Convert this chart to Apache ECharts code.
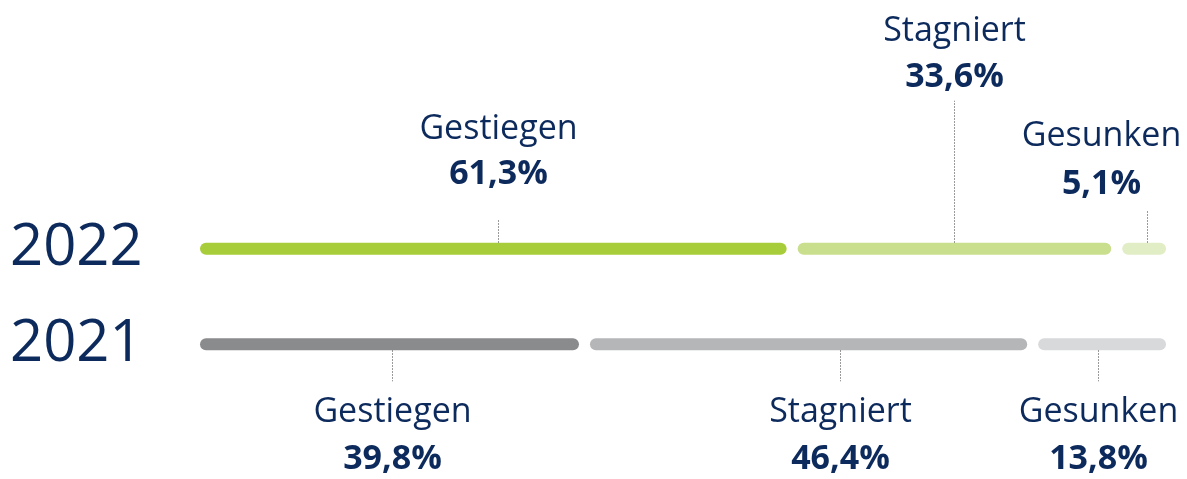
<!DOCTYPE html>
<html>
<head>
<meta charset="utf-8">
<script src="https://cdn.jsdelivr.net/npm/echarts@6/dist/echarts.min.js"></script>
<style>html,body{margin:0;padding:0;background:#fff;}#c{width:1187px;height:479px;}</style>
</head>
<body>
<div id="c"></div>
<script>
// ---- data ----
var years = ['2021', '2022'];
var segmentNames = ['Gestiegen', 'Stagniert', 'Gesunken'];
var values2022 = [61.3, 33.6, 5.1];
var values2021 = [39.8, 46.4, 13.8];

// ---- styles / layout ----
var navy = '#0d2a5c';
var colors2022 = ['#a8cd3a', '#c9df8d', '#e1edc4'];
var colors2021 = ['#8a8b8d', '#b5b6b8', '#d8d9db'];
// offsets relative to bar center (px)
var layout2022 = [
  {lineEnd: -30, name: -119, pct: -74, dx: 5, ldx: 0},
  {lineEnd: -148, name: -217, pct: -171, dx: 0, ldx: 0},
  {lineEnd: -38, name: -112, pct: -64, dx: 3, ldx: -46}
];
var layout2021 = [
  {lineEnd: 37, name: 68, pct: 115, dx: 3, ldx: 0},
  {lineEnd: 37, name: 68, pct: 115, dx: 31, ldx: 0},
  {lineEnd: 37, name: 68, pct: 115, dx: -4, ldx: 0}
];

function fmt(v) { return v.toFixed(1).replace('.', ',') + '%'; }

var rows = [];
function addYear(yIdx, vals, cols, lay) {
  var s = 0;
  vals.forEach(function (v, i) {
    rows.push({value: [yIdx, s, s + v, i], color: cols[i], lay: lay[i], label: segmentNames[i], pct: fmt(v)});
    s += v;
  });
}
addYear(1, values2022, colors2022, layout2022);
addYear(0, values2021, colors2021, layout2021);

var GAP = 5.5, TH = 12;
function renderItem(params, api) {
  var item = rows[params.dataIndex];
  var y = api.value(0), a = api.value(1), b = api.value(2);
  var p0 = api.coord([a, y]), p1 = api.coord([b, y]);
  var x0 = p0[0] + (a <= 0.001 ? 0 : GAP);
  var x1 = p1[0] - (b >= 99.999 ? 0 : GAP);
  var cy = p0[1];
  var lay = item.lay;
  var lx = Math.round((x0 + x1) / 2 + lay.dx) + 0.5;
  var tx = lx + lay.ldx;
  var lineStart = lay.lineEnd < 0 ? cy - TH / 2 : cy + TH / 2;
  return {
    type: 'group',
    children: [
      {type: 'rect', shape: {x: x0, y: cy - TH / 2, width: x1 - x0, height: TH, r: TH / 2}, style: {fill: item.color}},
      {type: 'line', shape: {x1: lx, y1: lineStart, x2: lx, y2: cy + lay.lineEnd}, style: {stroke: '#7a7a7a', lineWidth: 1, lineDash: [1.5, 1.5]}},
      {type: 'text', x: tx, y: cy + lay.name, style: {text: item.label, fill: navy, font: 'normal 34px "Open Sans"', textAlign: 'center', textVerticalAlign: 'middle'}},
      {type: 'text', x: tx, y: cy + lay.pct, style: {text: item.pct, fill: navy, font: 'bold 34px "Open Sans"', textAlign: 'center', textVerticalAlign: 'middle'}}
    ]
  };
}

var chart = echarts.init(document.getElementById('c'));
chart.setOption({
  animation: false,
  grid: {left: 200, right: 21, top: 201, bottom: 87},
  xAxis: {type: 'value', min: 0, max: 100, show: false},
  yAxis: {
    type: 'category', data: years,
    axisLine: {show: false}, axisTick: {show: false}, splitLine: {show: false},
    axisLabel: {color: navy, fontSize: 58, fontFamily: 'Open Sans', align: 'left', margin: 190}
  },
  series: [{
    type: 'custom',
    renderItem: renderItem,
    encode: {x: [1, 2], y: 0},
    data: rows.map(function (r) { return r.value; })
  }]
});
</script>
</body>
</html>
